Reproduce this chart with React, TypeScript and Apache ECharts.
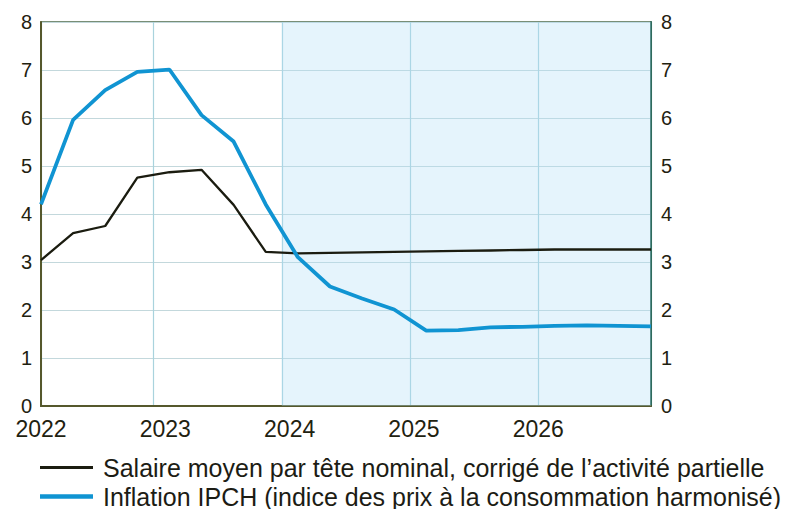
import React, { useEffect, useRef } from "react";
import * as echarts from "echarts";

const quarters = [
  2022.125, 2022.375, 2022.625, 2022.875,
  2023.125, 2023.375, 2023.625, 2023.875,
  2024.125, 2024.375, 2024.625, 2024.875,
  2025.125, 2025.375, 2025.625, 2025.875,
  2026.125, 2026.375, 2026.625, 2026.875,
];
const salaire = [
  3.04, 3.6, 3.75, 4.76, 4.87, 4.92, 4.19, 3.21,
  3.18, 3.19, 3.2, 3.21, 3.22, 3.23, 3.24, 3.25,
  3.26, 3.26, 3.26, 3.26,
];
const inflation = [
  4.2, 5.96, 6.58, 6.96, 7.01, 6.06, 5.51, 4.2,
  3.1, 2.49, 2.24, 2.01, 1.57, 1.58, 1.64, 1.65,
  1.67, 1.68, 1.67, 1.66,
];
const yearLabels = ["2022", "2023", "2024", "2025", "2026"];
const projectionStart = 2024;
const seriesNames = [
  "Salaire moyen par tête nominal, corrigé de l\u2019activité partielle",
  "Inflation IPCH (indice des prix à la consommation harmonisé)",
];

const FONT = "Liberation Sans, Arial, sans-serif";
const BLACK = "#1b1c10";
const BLUE = "#1094d2";

export default function App() {
  const ref = useRef<HTMLDivElement>(null);
  useEffect(() => {
    if (!ref.current) return;
    const chart = echarts.init(ref.current, undefined, { renderer: "svg" });
    const yLabelStyle = {
      color: "#1f2210",
      fontSize: 20,
      fontFamily: FONT,
      lineHeight: 18,
      padding: [0, 0, 4, 0],
    };
    const legendText = { fontSize: 25, color: "#1c1c14", fontFamily: FONT, padding: [0, 0, 0, 5] };
    chart.setOption({
      animation: false,
      backgroundColor: "#ffffff",
      grid: {
        left: 41,
        right: 136,
        top: 22,
        bottom: 103,
        show: true,
        borderColor: "#4d6a4a",
        borderWidth: 1.5,
      },
      legend: [
        {
          orient: "horizontal",
          left: 40,
          top: 455,
          padding: 0,
          itemWidth: 53,
          itemHeight: 14,
          textStyle: legendText,
          data: [{ name: seriesNames[0], icon: "path://M0,0 L53,0 L53,3 L0,3 Z" }],
        },
        {
          orient: "horizontal",
          left: 40,
          top: 484,
          padding: 0,
          itemWidth: 53,
          itemHeight: 14,
          textStyle: legendText,
          data: [{ name: seriesNames[1], icon: "path://M0,0 L53,0 L53,4.5 L0,4.5 Z" }],
        },
      ],
      xAxis: [
        {
          type: "value",
          min: quarters[0],
          max: quarters[quarters.length - 1],
          axisLabel: { show: false },
          axisTick: { show: false },
          axisLine: { show: true, lineStyle: { color: "#55582c", width: 2 } },
          splitLine: { show: true, lineStyle: { color: "#a9d3dd", width: 1.2 } },
        },
        {
          type: "value",
          position: "bottom",
          min: 0,
          max: 4.907,
          interval: 1,
          axisLine: { show: false },
          axisTick: { show: false },
          splitLine: { show: false },
          axisLabel: {
            color: "#1f2210",
            fontSize: 23,
            lineHeight: 22,
            fontFamily: FONT,
            margin: 12,
            showMaxLabel: false,
            formatter: (v: number) => yearLabels[Math.round(v)] ?? "",
          },
        },
      ],
      yAxis: [
        {
          type: "value",
          min: 0,
          max: 8,
          interval: 1,
          axisLine: { show: true, lineStyle: { color: "#55582c", width: 2 } },
          axisTick: { show: false },
          axisLabel: { ...yLabelStyle, margin: 9 },
          splitLine: { show: true, lineStyle: { color: "#c3d8dc", width: 1.2 } },
        },
        {
          type: "value",
          min: 0,
          max: 8,
          interval: 1,
          position: "right",
          axisLine: { show: true, lineStyle: { color: "#2f6b5c", width: 2 } },
          axisTick: { show: false },
          axisLabel: { ...yLabelStyle, margin: 10 },
          splitLine: { show: false },
        },
      ],
      series: [
        {
          name: seriesNames[0],
          type: "line",
          xAxisIndex: 0,
          yAxisIndex: 0,
          symbol: "none",
          data: quarters.map((q, i) => [q, salaire[i]]),
          lineStyle: { color: BLACK, width: 2.3 },
          itemStyle: { color: BLACK },
          markArea: {
            silent: true,
            itemStyle: { color: "rgba(175, 222, 245, 0.33)" },
            data: [[{ xAxis: projectionStart }, { xAxis: quarters[quarters.length - 1] }]],
          },
        },
        {
          name: seriesNames[1],
          type: "line",
          xAxisIndex: 0,
          yAxisIndex: 0,
          symbol: "none",
          data: quarters.map((q, i) => [q, inflation[i]]),
          lineStyle: { color: BLUE, width: 3.8 },
          itemStyle: { color: BLUE },
        },
      ],
    });
    return () => chart.dispose();
  }, []);
  return <div ref={ref} style={{ width: 787, height: 509, position: "absolute", left: 0, top: 0 }} />;
}
